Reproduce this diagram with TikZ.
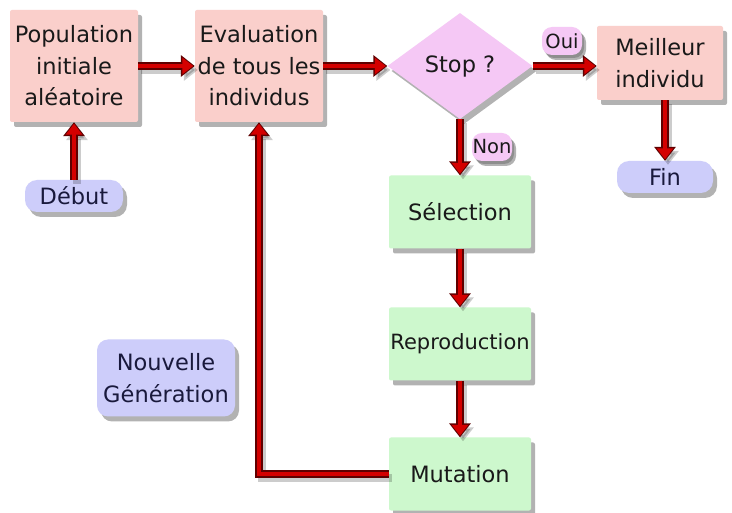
\documentclass[tikz,border=0pt]{standalone}
\usepackage{fontspec}
\setmainfont{DejaVu Sans}
\usetikzlibrary{shapes.geometric,arrows.meta,shadows}
\definecolor{pinkbox}{RGB}{250,207,203}
\definecolor{greenbox}{RGB}{205,248,205}
\definecolor{lavbox}{RGB}{205,205,250}
\definecolor{diamfill}{RGB}{245,200,245}
\definecolor{arrred}{RGB}{212,0,0}
\definecolor{arrdark}{RGB}{95,0,0}
\definecolor{txtdark}{RGB}{25,25,25}
\definecolor{txtnavy}{RGB}{25,25,60}
\begin{document}
\begin{tikzpicture}[x=1pt,y=-1pt,
  shad/.style={drop shadow={shadow xshift=4pt,shadow yshift=-5pt,opacity=0.3,fill=black}},
  base/.style={inner sep=0pt,align=center,font=\fontsize{22.5}{31.5}\selectfont,text=txtdark,shad},
  pinkb/.style={base,rectangle,rounded corners=2pt,fill=pinkbox},
  greenb/.style={base,rectangle,rounded corners=2pt,fill=greenbox},
  lavb/.style={base,rectangle,rounded corners=11pt,fill=lavbox,text=txtnavy},
  lbl/.style={base,rectangle,rounded corners=10pt,fill=diamfill,font=\fontsize{19.5}{21}\selectfont,
    drop shadow={shadow xshift=2pt,shadow yshift=-3pt,opacity=0.2,fill=black}},
  flow/.style={line width=4.5pt,draw=arrred,-{Triangle[length=11pt,width=16pt]},shorten >=1.5pt,
    preaction={draw=black,opacity=0.2,line width=8pt,-{Triangle[length=14pt,width=21pt]},shorten >=0pt,
      transform canvas={shift={(3pt,-4pt)}}},
    preaction={draw=arrdark,line width=8pt,-{Triangle[length=14pt,width=21pt]},shorten >=0pt}}
]
\useasboundingbox[fill=white] (0,0) rectangle (732,513);

\node[pinkb,minimum width=128pt,minimum height=112pt] (pop) at (74,66) {Population\\initiale\\aléatoire};
\node[pinkb,minimum width=128pt,minimum height=112pt] (eval) at (259,66) {Evaluation\\de tous les\\individus};
\node[diamond,base,fill=diamfill,minimum width=145pt,minimum height=106pt] (stop) at (460,66) {Stop ?};
\node[pinkb,minimum width=126pt,minimum height=74pt] (meil) at (660,63) {Meilleur\\individu};
\node[lavb,minimum width=96pt,minimum height=32pt,rounded corners=12pt] (fin) at (665,177) {Fin};
\node[lavb,minimum width=98pt,minimum height=32pt,rounded corners=12pt] (debut) at (74,196) {Début};
\node[greenb,minimum width=142pt,minimum height=73pt] (sel) at (460,212) {Sélection};
\node[greenb,minimum width=142pt,minimum height=73pt,font=\fontsize{21}{24}\selectfont] (repro) at (460,344) {Reproduction};
\node[greenb,minimum width=142pt,minimum height=73pt] (mut) at (460,474) {Mutation};
\node[lavb,minimum width=138pt,minimum height=77pt] (nouv) at (166,378) {Nouvelle\\Génération};

\draw[flow] (debut) -- (pop);
\draw[flow] (pop) -- (eval);
\draw[flow] (eval) -- (stop);
\draw[flow] (stop.east) -- (meil.west |- stop.east);
\draw[flow] (stop) -- (sel);
\draw[flow] (sel) -- (repro);
\draw[flow] (repro) -- (mut);
\draw[flow] (mut.west) -| (eval.south);
\draw[flow] (meil.south -| fin.north) -- (fin.north);

\node[lbl,minimum width=40pt,minimum height=28pt] (oui) at (562,41) {Oui};
\node[lbl,minimum width=40pt,minimum height=28pt] (non) at (492,147) {Non};
\end{tikzpicture}
\end{document}
